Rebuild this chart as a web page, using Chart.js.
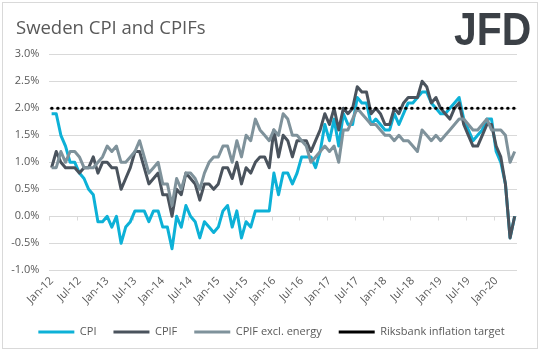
<!DOCTYPE html>
<html>
<head>
<meta charset="utf-8">
<script src="https://cdn.jsdelivr.net/npm/chart.js@4.4.1/dist/chart.umd.min.js"></script>
<style>
  html, body { margin: 0; padding: 0; background: #ffffff; }
  #wrap { position: relative; width: 543px; height: 351px; overflow: hidden; background: #ffffff; }
  #frame { position: absolute; left: 2px; top: 2px; width: 536px; height: 347px; box-sizing: border-box; border: 1px solid #d9d9d9; }
  #title { position: absolute; left: 16px; top: 14px; font-family: 'Open Sans', sans-serif; font-size: 18.5px; color: #595959; white-space: nowrap; }
  #logo { position: absolute; left: 454px; top: 5px; font-family: 'Liberation Sans', Arial, sans-serif; font-weight: bold; font-size: 47px; line-height: 47px; color: #3b4046; transform: scaleX(0.87); transform-origin: left top; white-space: nowrap; }
  canvas { position: absolute; left: 0; top: 0; }
</style>
</head>
<body>
<div id="wrap">
  <div id="frame"></div>
  <canvas id="c" width="543" height="351"></canvas>
  <div id="title">Sweden CPI and CPIFs</div>
  <div id="logo">JFD</div>
</div>
<script>
// ---- data (monthly, Jan-12 .. May-20) ----
const MONTHS = ['Jan','Feb','Mar','Apr','May','Jun','Jul','Aug','Sep','Oct','Nov','Dec'];
const YEARS = ['12','13','14','15','16','17','18','19','20'];
const LAST_MONTH_2020 = 5; // data ends May-20

const CPI = [
  1.9, 1.9, 1.5, 1.3, 1.0, 1.0, 0.8, 0.7, 0.5, 0.4, -0.1, -0.1,
  0.0, -0.2, 0.0, -0.5, -0.2, -0.1, 0.1, 0.1, 0.1, -0.1, 0.1, 0.1,
  -0.2, -0.2, -0.6, 0.0, -0.2, 0.2, 0.0, -0.1, -0.4, -0.1, -0.2, -0.3,
  -0.2, 0.1, 0.2, -0.2, 0.1, -0.4, -0.1, -0.2, 0.1, 0.1, 0.1, 0.1,
  0.8, 0.4, 0.8, 0.8, 0.6, 0.8, 1.1, 1.1, 1.1, 0.9, 1.2, 1.7,
  1.4, 1.8, 1.3, 1.9, 1.7, 1.7, 2.2, 2.1, 2.1, 1.7, 1.8, 1.7,
  1.6, 1.6, 1.9, 1.7, 1.9, 2.1, 2.1, 2.2, 2.3, 2.3, 2.1, 2.0,
  1.9, 1.9, 2.0, 2.1, 2.2, 1.8, 1.6, 1.4, 1.5, 1.6, 1.8, 1.8,
  1.2, 1.0, 0.6, -0.4, 0.0
];
const CPIF = [
  0.9, 1.2, 1.0, 0.9, 0.9, 0.9, 0.8, 0.9, 0.9, 1.1, 0.8, 1.0,
  1.0, 0.9, 0.9, 0.5, 0.7, 0.9, 1.2, 1.2, 0.9, 0.6, 0.7, 0.8,
  0.4, 0.4, 0.0, 0.5, 0.4, 0.8, 0.7, 0.6, 0.3, 0.6, 0.6, 0.5,
  0.6, 0.9, 0.9, 0.7, 1.0, 0.6, 0.9, 0.8, 1.0, 1.1, 1.1, 0.9,
  1.6, 1.1, 1.5, 1.4, 1.1, 1.4, 1.4, 1.4, 1.2, 1.4, 1.6, 1.9,
  1.7, 2.0, 1.6, 2.0, 1.9, 2.0, 2.4, 2.3, 2.3, 1.9, 2.0, 1.9,
  1.7, 1.7, 2.0, 1.9, 2.1, 2.2, 2.2, 2.2, 2.5, 2.4, 2.1, 2.2,
  2.0, 1.9, 1.8, 2.0, 2.1, 1.7, 1.5, 1.3, 1.3, 1.5, 1.7, 1.7,
  1.3, 1.1, 0.6, -0.4, 0.0
];
const CPIF_EXCL_ENERGY = [
  0.9, 0.9, 1.2, 1.0, 1.2, 1.2, 1.1, 0.9, 0.9, 0.9, 1.0, 1.1,
  1.3, 1.2, 1.3, 1.0, 1.0, 1.1, 1.2, 1.4, 1.1, 0.8, 0.9, 1.0,
  0.6, 0.6, 0.2, 0.7, 0.5, 0.8, 0.8, 0.7, 0.5, 0.8, 1.0, 1.1,
  1.1, 1.3, 1.3, 1.0, 1.4, 1.1, 1.5, 1.4, 1.8, 1.6, 1.5, 1.4,
  1.6, 1.5, 1.9, 1.8, 1.5, 1.5, 1.4, 1.3, 1.0, 1.1, 1.2, 1.3,
  1.2, 1.3, 1.0, 1.6, 1.6, 1.8, 2.0, 1.9, 1.8, 1.7, 1.7, 1.6,
  1.5, 1.5, 1.4, 1.5, 1.4, 1.4, 1.3, 1.2, 1.6, 1.5, 1.4, 1.5,
  1.4, 1.5, 1.6, 1.7, 1.8, 1.8, 1.7, 1.6, 1.6, 1.7, 1.8, 1.6,
  1.6, 1.6, 1.5, 1.0, 1.2
];
const RIKSBANK_TARGET = [
  2.0, 2.0, 2.0, 2.0, 2.0, 2.0, 2.0, 2.0, 2.0, 2.0, 2.0, 2.0,
  2.0, 2.0, 2.0, 2.0, 2.0, 2.0, 2.0, 2.0, 2.0, 2.0, 2.0, 2.0,
  2.0, 2.0, 2.0, 2.0, 2.0, 2.0, 2.0, 2.0, 2.0, 2.0, 2.0, 2.0,
  2.0, 2.0, 2.0, 2.0, 2.0, 2.0, 2.0, 2.0, 2.0, 2.0, 2.0, 2.0,
  2.0, 2.0, 2.0, 2.0, 2.0, 2.0, 2.0, 2.0, 2.0, 2.0, 2.0, 2.0,
  2.0, 2.0, 2.0, 2.0, 2.0, 2.0, 2.0, 2.0, 2.0, 2.0, 2.0, 2.0,
  2.0, 2.0, 2.0, 2.0, 2.0, 2.0, 2.0, 2.0, 2.0, 2.0, 2.0, 2.0,
  2.0, 2.0, 2.0, 2.0, 2.0, 2.0, 2.0, 2.0, 2.0, 2.0, 2.0, 2.0,
  2.0, 2.0, 2.0, 2.0, 2.0
];
const X_TICK_LABELS = ['Jan-12','Jul-12','Jan-13','Jul-13','Jan-14','Jul-14','Jan-15','Jul-15',
  'Jan-16','Jul-16','Jan-17','Jul-17','Jan-18','Jul-18','Jan-19','Jul-19','Jan-20'];
const Y_MIN = -1.0, Y_MAX = 3.0, Y_STEP = 0.5;

// category labels
const LABELS = [];
YEARS.forEach((yy, yi) => {
  const n = (yi === YEARS.length - 1) ? LAST_MONTH_2020 : 12;
  for (let m = 0; m < n; m++) LABELS.push(MONTHS[m] + '-' + yy);
});

// ---- styles ----
const COL_CPI = '#0db1d7';
const COL_CPIF = '#4a535d';
const COL_EXCL = '#7f929b';
const COL_TARGET = '#000000';
const GRID = '#d9d9d9';
const TEXT = '#595959';
const FONT = "'Open Sans', sans-serif";

const zeroAxisTicks = {
  id: 'zeroAxisTicks',
  beforeDatasetsDraw(chart) {
    const xs = chart.scales.x, ys = chart.scales.y;
    const y0 = Math.round(ys.getPixelForValue(0)) + 0.5;
    const step = xs.getPixelForValue(1) - xs.getPixelForValue(0);
    const ctx = chart.ctx;
    ctx.save();
    ctx.strokeStyle = GRID;
    ctx.lineWidth = 1;
    ctx.beginPath();
    for (let i = 0; i < LABELS.length; i += 6) {
      const px = Math.round(xs.getPixelForValue(i) - step / 2) + 0.5;
      ctx.moveTo(px, y0);
      ctx.lineTo(px, y0 + 4);
    }
    ctx.stroke();
    ctx.restore();
  }
};

const lineDs = (label, data, color, order, extra) => Object.assign({
  label, data, borderColor: color, backgroundColor: color, borderWidth: 3,
  pointRadius: 0, pointHoverRadius: 0, tension: 0, fill: false, order,
  borderJoinStyle: 'round', yAxisID: 'y'
}, extra || {});

new Chart(document.getElementById('c'), {
  type: 'line',
  data: {
    labels: LABELS,
    datasets: [
      lineDs('CPI', CPI, COL_CPI, 4),
      lineDs('CPIF', CPIF, COL_CPIF, 3),
      lineDs('CPIF excl. energy', CPIF_EXCL_ENERGY, COL_EXCL, 2),
      lineDs('Riksbank inflation target', RIKSBANK_TARGET, COL_TARGET, 1,
        { borderWidth: 3, borderDash: [0.5, 5.5], borderCapStyle: 'round' })
    ]
  },
  options: {
    responsive: false,
    animation: false,
    devicePixelRatio: 1,
    layout: { padding: { top: 54.3, left: 0, right: 0, bottom: 3.5 } },
    plugins: {
      legend: {
        position: 'bottom',
        labels: {
          usePointStyle: true, pointStyle: 'line', pointStyleWidth: 36,
          padding: 17, color: TEXT, font: { family: FONT, size: 11 },
          sort: (a, b) => a.datasetIndex - b.datasetIndex
        }
      },
      tooltip: { enabled: false }
    },
    scales: {
      x: {
        offset: true,
        grid: { display: false, drawTicks: false },
        border: { display: false },
        ticks: {
          autoSkip: false, maxRotation: 45, minRotation: 45, padding: 4,
          color: TEXT, font: { family: FONT, size: 11 },
          callback: (v, i) => X_TICK_LABELS.includes(LABELS[i]) ? LABELS[i] : ''
        },
        afterFit: s => { s.height = 39.2; }
      },
      y: {
        min: Y_MIN, max: Y_MAX,
        grid: { color: GRID, drawTicks: false, lineWidth: 1 },
        border: { display: false },
        ticks: {
          stepSize: Y_STEP, padding: 10, color: TEXT, font: { family: FONT, size: 11 },
          callback: v => v.toFixed(1) + '%'
        },
        afterFit: s => { s.width = 49.3; }
      },
      yRight: {
        position: 'right', display: true,
        grid: { display: false, drawTicks: false }, border: { display: false },
        ticks: { display: false },
        afterFit: s => { s.width = 26; }
      }
    }
  },
  plugins: [zeroAxisTicks]
});
</script>
</body>
</html>
